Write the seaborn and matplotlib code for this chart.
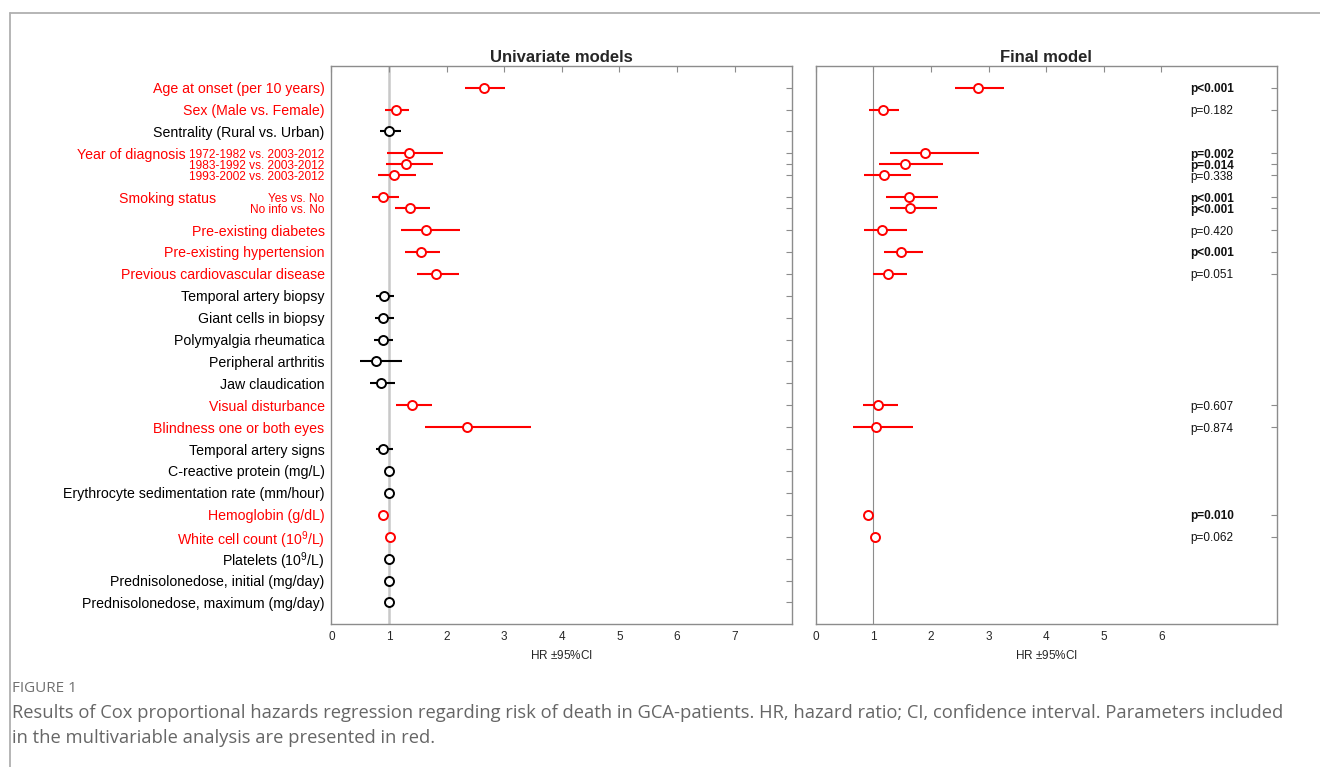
import numpy as np
import pandas as pd
import seaborn as sns
import matplotlib.pyplot as plt
from matplotlib.lines import Line2D
from matplotlib.transforms import blended_transform_factory

# one entry per row of the forest plot
group = [
    "Age at onset (per 10 years)", "Sex (Male vs. Female)", "Sentrality (Rural vs. Urban)",
    "Year of diagnosis", "Year of diagnosis", "Year of diagnosis",
    "Smoking status", "Smoking status",
    "Pre-existing diabetes", "Pre-existing hypertension", "Previous cardiovascular disease",
    "Temporal artery biopsy", "Giant cells in biopsy", "Polymyalgia rheumatica",
    "Peripheral arthritis", "Jaw claudication", "Visual disturbance",
    "Blindness one or both eyes", "Temporal artery signs", "C-reactive protein (mg/L)",
    "Erythrocyte sedimentation rate (mm/hour)", "Hemoglobin (g/dL)",
    "White cell count (10$^9$/L)", "Platelets (10$^9$/L)",
    "Prednisolonedose, initial (mg/day)", "Prednisolonedose, maximum (mg/day)",
]
sub = [None, None, None,
       "1972-1982 vs. 2003-2012", "1983-1992 vs. 2003-2012", "1993-2002 vs. 2003-2012",
       "Yes vs. No", "No info vs. No"] + [None] * 18
in_final = [1, 1, 0, 1, 1, 1, 1, 1, 1, 1, 1, 0, 0, 0, 0, 0, 1, 1, 0, 0, 0, 1, 1, 0, 0, 0]

uni_hr = [2.65, 1.12, 1.00, 1.35, 1.29, 1.08, 0.90, 1.37, 1.64, 1.55, 1.82,
          0.92, 0.90, 0.89, 0.77, 0.86, 1.39, 2.36, 0.90, 1.00, 1.00, 0.90, 1.02, 1.00, 1.00, 1.00]
uni_lo = [2.32, 0.93, 0.84, 0.97, 0.95, 0.80, 0.71, 1.11, 1.21, 1.27, 1.49,
          0.77, 0.75, 0.74, 0.49, 0.67, 1.12, 1.62, 0.77, 0.99, 0.99, 0.89, 1.01, 0.99, 0.99, 0.99]
uni_hi = [3.02, 1.35, 1.20, 1.93, 1.76, 1.47, 1.18, 1.71, 2.23, 1.89, 2.22,
          1.09, 1.08, 1.07, 1.23, 1.10, 1.74, 3.46, 1.07, 1.01, 1.01, 0.92, 1.03, 1.01, 1.01, 1.01]

nan = np.nan
fin_hr = [2.81, 1.16, nan, 1.90, 1.55, 1.19, 1.61, 1.64, 1.15, 1.48, 1.26,
          nan, nan, nan, nan, nan, 1.08, 1.04, nan, nan, nan, 0.91, 1.03, nan, nan, nan]
fin_lo = [2.42, 0.93, nan, 1.28, 1.09, 0.84, 1.22, 1.28, 0.83, 1.19, 1.00,
          nan, nan, nan, nan, nan, 0.82, 0.64, nan, nan, nan, 0.90, 1.02, nan, nan, nan]
fin_hi = [3.26, 1.44, nan, 2.84, 2.20, 1.65, 2.12, 2.10, 1.59, 1.86, 1.58,
          nan, nan, nan, nan, nan, 1.42, 1.69, nan, nan, nan, 0.92, 1.04, nan, nan, nan]
p_text = ["p<0.001", "p=0.182", "", "p=0.002", "p=0.014", "p=0.338", "p<0.001", "p<0.001",
          "p=0.420", "p<0.001", "p=0.051", "", "", "", "", "", "p=0.607", "p=0.874",
          "", "", "", "p=0.010", "p=0.062", "", "", ""]
p_bold = [1, 0, 0, 1, 1, 0, 1, 1, 0, 1, 0, 0, 0, 0, 0, 0, 0, 0, 0, 0, 0, 1, 0, 0, 0, 0]

# row positions: new variable -> +1, further sub-row of same variable -> +0.5
ypos = []
for i, g in enumerate(group):
    if i == 0:
        ypos.append(1.0)
    elif g == group[i - 1]:
        ypos.append(ypos[-1] + 0.5)
    else:
        ypos.append(ypos[-1] + 1.0)

df = pd.DataFrame({"y": ypos, "group": group, "sub": sub, "final": in_final,
                   "uhr": uni_hr, "ulo": uni_lo, "uhi": uni_hi,
                   "fhr": fin_hr, "flo": fin_lo, "fhi": fin_hi,
                   "p": p_text, "bold": p_bold})
df["col"] = np.where(df["final"] == 1, "#ff0000", "#000000")

sns.set_style("white")
plt.rcParams["font.family"] = ["Liberation Sans", "DejaVu Sans"]
plt.rcParams["mathtext.fontset"] = "custom"
plt.rcParams["mathtext.rm"] = "Liberation Sans"
plt.rcParams["mathtext.it"] = "Liberation Sans:italic"

fig = plt.figure(figsize=(13.2, 7.67), dpi=100)
ax1 = fig.add_axes([0.2511, 0.186, 0.3491, 0.7283])
ax2 = fig.add_axes([0.6180, 0.186, 0.3492, 0.7283])

spine_col = "#8c8c8c"
for ax in (ax1, ax2):
    ax.set_xlim(0, 8)
    ax.set_ylim(25.5, 0)
    for s in ax.spines.values():
        s.set_color(spine_col)
        s.set_linewidth(1.0)
    ax.tick_params(direction="in", length=4, width=0.8, color=spine_col,
                   top=True, right=True, labelsize=8.5, labelcolor="#262626", pad=5)

ax1.axvline(1, color="#c8c8c8", lw=1.8, zorder=0)
ax2.axvline(1, color="#8c8c8c", lw=0.8, zorder=0)

# univariate panel
ax1.hlines(df["y"], df["ulo"], df["uhi"], colors=df["col"], lw=1.5, zorder=2)
for c, d in df.groupby("col"):
    sns.scatterplot(data=d, x="uhr", y="y", ax=ax1, s=42, marker="o",
                    facecolor="white", edgecolor=c, linewidth=1.4, zorder=3, legend=False)

# final model panel
fin = df[df["final"] == 1]
ax2.hlines(fin["y"], fin["flo"], fin["fhi"], colors="#ff0000", lw=1.5, zorder=2)
sns.scatterplot(data=fin, x="fhr", y="y", ax=ax2, s=42, marker="o",
                facecolor="white", edgecolor="#ff0000", linewidth=1.4, zorder=3, legend=False)
for _, r in fin.iterrows():
    ax2.text(6.5, r["y"], r["p"], ha="left", va="center_baseline", fontsize=8.5,
             color="#111111", fontweight="bold" if r["bold"] else "normal")

for ax in (ax1, ax2):
    ax.set_xlabel("HR $\\pm$95%CI", fontsize=8.5, color="#262626", labelpad=4)
    ax.set_ylabel("")

# y labels of the univariate panel
ax1.set_yticks(df["y"])
ticklabs = [s if s is not None else g for g, s in zip(df["group"], df["sub"])]
ax1.set_yticklabels(ticklabs)
for lab, s, c in zip(ax1.get_yticklabels(), df["sub"], df["col"]):
    lab.set_color(c)
    lab.set_fontsize(8.6 if s is not None else 10.2)
ax1.tick_params(axis="y", pad=5)

trans = blended_transform_factory(ax1.transAxes, ax1.transData)
first_sub = df[df["sub"].notna()].drop_duplicates("group")
main_x = {"Year of diagnosis": -0.316, "Smoking status": -0.251}
for _, r in first_sub.iterrows():
    ax1.text(main_x[r["group"]], r["y"], r["group"], transform=trans, ha="right",
             va="center_baseline", fontsize=10.2, color=r["col"])

ax2.set_yticks(fin["y"])
ax2.set_yticklabels([])
ax1.set_xticks(range(0, 8))
ax2.set_xticks(range(0, 7))

ax1.set_title("Univariate models", fontsize=12, fontweight="bold", pad=3)
ax2.set_title("Final model", fontsize=12, fontweight="bold", pad=3)

# figure frame and caption
fig.add_artist(Line2D([10 / 1320, 1], [1 - 13 / 767] * 2, transform=fig.transFigure,
                      color="#b0b0b0", lw=1.3))
fig.add_artist(Line2D([10 / 1320] * 2, [0, 1 - 13 / 767], transform=fig.transFigure,
                      color="#b0b0b0", lw=1.3))
cap_font = ["Open Sans", "DejaVu Sans"]
fig.text(12 / 1320, 1 - 689 / 767, "FIGURE 1", fontsize=11, color="#707070",
         family=cap_font, va="center")
fig.text(12 / 1320, 1 - 713 / 767,
         "Results of Cox proportional hazards regression regarding risk of death in GCA-patients. "
         "HR, hazard ratio; CI, confidence interval. Parameters included",
         fontsize=13.25, color="#666666", family=cap_font, va="center")
fig.text(12 / 1320, 1 - 738 / 767, "in the multivariable analysis are presented in red.",
         fontsize=13.25, color="#666666", family=cap_font, va="center")

fig.savefig("out.png", dpi=100)
